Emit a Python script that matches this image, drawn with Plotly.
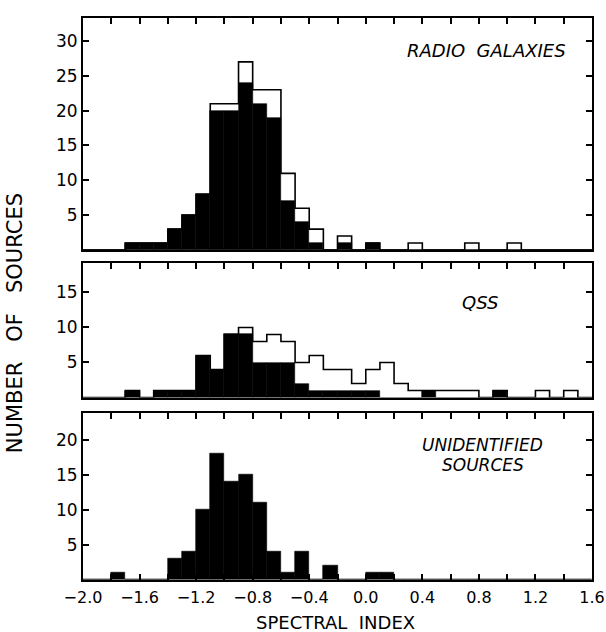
import plotly.graph_objects as go

# Bin lower edges (spectral index), bin width 0.1
bin_lo = [-2.0, -1.9, -1.8, -1.7, -1.6, -1.5, -1.4, -1.3, -1.2, -1.1,
          -1.0, -0.9, -0.8, -0.7, -0.6, -0.5, -0.4, -0.3, -0.2, -0.1,
          0.0, 0.1, 0.2, 0.3, 0.4, 0.5, 0.6, 0.7, 0.8, 0.9,
          1.0, 1.1, 1.2, 1.3, 1.4, 1.5]
bin_hi_last = 1.6
bin_width = 0.1

# Radio galaxies: filled (black) and total (outline)
rg_black = [0, 0, 0, 1, 1, 1, 3, 5, 8, 20,
            20, 24, 21, 19, 7, 4, 1, 0, 1, 0,
            1, 0, 0, 0, 0, 0, 0, 0, 0, 0,
            0, 0, 0, 0, 0, 0]
rg_total = [0, 0, 0, 1, 1, 1, 3, 5, 8, 21,
            21, 27, 23, 23, 11, 6, 3, 0, 2, 0,
            1, 0, 0, 1, 0, 0, 0, 1, 0, 0,
            1, 0, 0, 0, 0, 0]

# QSS
qss_black = [0, 0, 0, 1, 0, 1, 1, 1, 6, 4,
             9, 9, 5, 5, 5, 2, 1, 1, 1, 1,
             1, 0, 0, 0, 1, 0, 0, 0, 0, 1,
             0, 0, 0, 0, 0, 0]
qss_total = [0, 0, 0, 1, 0, 1, 1, 1, 6, 4,
             9, 10, 8, 9, 8, 5, 6, 4, 4, 2,
             4, 5, 2, 1, 1, 1, 1, 1, 0, 1,
             0, 0, 1, 0, 1, 0]

# Unidentified sources
uid_black = [0, 0, 1, 0, 0, 0, 3, 4, 10, 18,
             14, 15, 11, 4, 1, 4, 0, 2, 0, 0,
             1, 1, 0, 0, 0, 0, 0, 0, 0, 0,
             0, 0, 0, 0, 0, 0]

x_tickvals = [-2.0, -1.8, -1.6, -1.4, -1.2, -1.0, -0.8, -0.6, -0.4, -0.2,
              0.0, 0.2, 0.4, 0.6, 0.8, 1.0, 1.2, 1.4, 1.6]
x_ticktext = ["\u22122.0", "", "\u22121.6", "", "\u22121.2", "", "\u22120.8", "", "\u22120.4", "",
              "0.0", "", "0.4", "", "0.8", "", "1.2", "", "1.6"]

rg_yticks = [5, 10, 15, 20, 25, 30]
qss_yticks = [5, 10, 15]
uid_yticks = [5, 10, 15, 20]

FONT = "DejaVu Sans"

centers = [b + bin_width / 2 for b in bin_lo]
edges = bin_lo + [bin_hi_last]

fig = go.Figure()


def add_panel(black, total, xa, ya):
    fig.add_trace(go.Bar(x=centers, y=black, width=bin_width,
                         marker=dict(color="black", line=dict(color="black", width=0.6)),
                         xaxis=xa, yaxis=ya, showlegend=False, hoverinfo="skip"))
    if total is not None:
        fig.add_trace(go.Scatter(x=edges, y=total + [0], mode="lines",
                                 line=dict(shape="hv", color="black", width=1.6),
                                 xaxis=xa, yaxis=ya, showlegend=False, hoverinfo="skip"))


add_panel(rg_black, rg_total, "x3", "y3")
add_panel(qss_black, qss_total, "x2", "y2")
add_panel(uid_black, None, "x", "y")

axis_common = dict(range=[-2.0, 1.6], showgrid=False, zeroline=False, automargin=False,
                   showline=True, linecolor="black", linewidth=2,
                   ticks="inside", ticklen=6, tickwidth=1.5, tickcolor="black",
                   tickvals=x_tickvals)

ycommon = dict(showgrid=False, zeroline=False, showline=True, linecolor="black",
               linewidth=2, ticks="inside", ticklen=6, tickwidth=1.5, automargin=False,
               tickcolor="black", mirror="ticks",
               tickfont=dict(family=FONT, size=17, color="black"))

fig.update_layout(
    width=606, height=632,
    margin=dict(l=83, r=14, t=18, b=52),
    paper_bgcolor="white", plot_bgcolor="white",
    bargap=0, barmode="overlay",
    xaxis=dict(**axis_common, anchor="y", mirror="ticks", ticktext=x_ticktext,
               ticklabelstandoff=2,
               tickfont=dict(family=FONT, size=16, color="black")),
    xaxis2=dict(**axis_common, anchor="y2", side="top", mirror=True,
                showticklabels=False, matches="x"),
    xaxis3=dict(**axis_common, anchor="y3", side="top", mirror=True,
                showticklabels=False, matches="x"),
    yaxis=dict(**ycommon, domain=[0.0, 0.298], range=[0, 23.9], tickvals=uid_yticks),
    yaxis2=dict(**ycommon, domain=[0.3247, 0.5641], range=[0, 19.2], tickvals=qss_yticks),
    yaxis3=dict(**ycommon, domain=[0.5872, 1.0], range=[0, 33.3], tickvals=rg_yticks),
)

lab_font = dict(family=FONT, size=18, color="black")
ann = dict(xref="paper", yref="paper", showarrow=False, xanchor="center", yanchor="middle")
fig.add_annotation(text="<i>RADIO&nbsp;&nbsp;GALAXIES</i>", x=0.792, y=0.943, font=lab_font, **ann)
fig.add_annotation(text="<i>QSS</i>", x=0.78, y=0.493, font=lab_font, **ann)
fig.add_annotation(text="<i>UNIDENTIFIED</i>", x=0.785, y=0.2405, font=dict(family=FONT, size=17, color="black"), **ann)
fig.add_annotation(text="<i>SOURCES</i>", x=0.785, y=0.2055, font=dict(family=FONT, size=17, color="black"), **ann)

fig.add_annotation(text="NUMBER&nbsp;&nbsp;&nbsp;OF&nbsp;&nbsp;&nbsp;SOURCES",
                   x=-0.1336, y=0.457, textangle=-90,
                   font=dict(family=FONT, size=21, color="black"), **ann)
fig.add_annotation(text="SPECTRAL&nbsp;&nbsp;INDEX", x=0.497, y=-0.0765,
                   font=dict(family=FONT, size=18, color="black"), **ann)

fig.write_html("out.html", config={"displayModeBar": False},
               post_script="document.body.style.margin='0';document.body.style.overflow='hidden';")
